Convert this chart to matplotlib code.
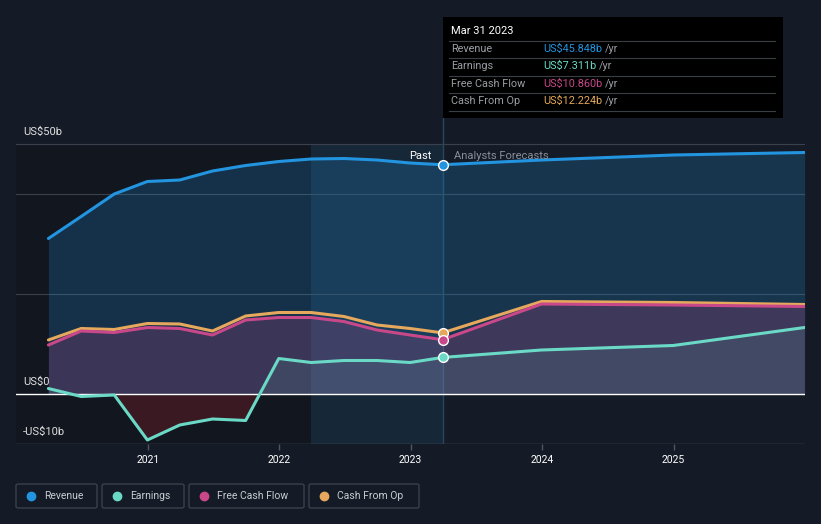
import numpy as np
import pandas as pd
import matplotlib
matplotlib.use("Agg")
import matplotlib.pyplot as plt
import matplotlib.dates as mdates
from matplotlib.patches import Rectangle, FancyBboxPatch

plt.rcParams["font.family"] = ["Roboto", "DejaVu Sans"]

# past, quarterly (US$ b, trailing twelve months)
past_dates = ["2020-03-31", "2020-06-30", "2020-09-30", "2020-12-31",
              "2021-03-31", "2021-06-30", "2021-09-30", "2021-12-31",
              "2022-03-31", "2022-06-30", "2022-09-30", "2022-12-31",
              "2023-03-31"]
rev_past = [31.1, 35.5, 40.0, 42.5, 42.8, 44.6, 45.7, 46.5, 47.0, 47.1, 46.8, 46.2, 45.848]
earn_past = [1.1, -0.5, -0.2, -9.2, -6.2, -5.0, -5.3, 7.1, 6.3, 6.7, 6.7, 6.3, 7.311]
fcf_past = [9.8, 12.6, 12.3, 13.3, 13.1, 11.8, 14.8, 15.3, 15.3, 14.5, 12.8, 11.8, 10.860]
cfo_past = [10.8, 13.1, 12.9, 14.1, 14.0, 12.6, 15.6, 16.3, 16.3, 15.5, 13.8, 13.1, 12.224]

# analyst forecasts
fc_dates = ["2023-03-31", "2023-12-31", "2024-12-31", "2025-12-31"]
rev_fc = [45.848, 46.8, 47.8, 48.3]
earn_fc = [7.311, 8.8, 9.7, 13.3]
fcf_fc = [10.860, 18.0, 17.8, 17.5]
cfo_fc = [12.224, 18.5, 18.3, 17.9]

tip_labels = ["Revenue", "Earnings", "Free Cash Flow", "Cash From Op"]
tip_values = ["US$45.848b", "US$7.311b", "US$10.860b", "US$12.224b"]
year_ticks = ["2021", "2022", "2023", "2024", "2025"]

BG = "#151b26"
C_REV = "#2394df"
C_EARN = "#6ad9c6"
C_FCF = "#c8488a"
C_CFO = "#e6a85c"

pd_past = pd.to_datetime(past_dates)
pd_fc = pd.to_datetime(fc_dates)
t = np.concatenate([pd_past, pd_fc[1:]])
rev = np.array(rev_past + rev_fc[1:])
earn = np.array(earn_past + earn_fc[1:])
fcf = np.array(fcf_past + fcf_fc[1:])
cfo = np.array(cfo_past + cfo_fc[1:])

fig = plt.figure(figsize=(8.21, 5.24), dpi=100, facecolor=BG)
W, H = 821, 524
ax = fig.add_axes([16 / W, 1 - 444 / H, (805 - 16) / W, (444 - 17) / H])
ax.set_facecolor(BG)

x0, x1 = pd.Timestamp("2020-01-01"), pd.Timestamp("2026-01-01")
ax.set_xlim(x0, x1)
ax.set_ylim(-10, 75.4)

# background bands (only inside the plotted range)
ax.fill_between([x0, pd.Timestamp("2022-03-31")], -10, 50, color="black", alpha=0.18, lw=0, zorder=0)
ax.fill_between([pd.Timestamp("2022-03-31"), pd_past[-1]], -10, 50, color=C_REV, alpha=0.10, lw=0, zorder=0)

# gridlines
for g in [50, 40, 20]:
    ax.axhline(g, color="#3a414c", lw=0.8, zorder=1)
ax.axhline(-10, color="#50565f", lw=1.0, zorder=1)

# fills
ax.fill_between(t, rev, 0, color=C_REV, alpha=0.22, lw=0, zorder=2)
ax.fill_between(t, fcf, 0, color=C_FCF, alpha=0.22, lw=0, zorder=2)
ax.fill_between(t, earn, 0, where=earn >= 0, interpolate=True, color=C_EARN, alpha=0.10, lw=0, zorder=2)
ax.fill_between(t, earn, 0, where=earn < 0, interpolate=True, color="#8a1f2c", alpha=0.35, lw=0, zorder=2)

ax.axhline(0, color="white", lw=1.0, zorder=3)

kw = dict(lw=2.2, solid_capstyle="round", solid_joinstyle="round", zorder=4)
ax.plot(t, rev, color=C_REV, **kw)
ax.plot(t, cfo, color=C_CFO, **kw)
ax.plot(t, fcf, color=C_FCF, **kw)
ax.plot(t, earn, color=C_EARN, **kw)

# marker line and points
ax.plot([pd_past[-1], pd_past[-1]], [-10, 55.2], color="#27465f", lw=1.0, zorder=1)
for v, c in [(rev_past[-1], C_REV), (cfo_past[-1], C_CFO), (fcf_past[-1], C_FCF), (earn_past[-1], C_EARN)]:
    ax.plot(pd_past[-1], v, "o", ms=7, color=c, mec="white", mew=1.0, zorder=5)

# axes styling
for s in ax.spines.values():
    s.set_visible(False)
ax.set_yticks([])
ax.set_xticks(pd.to_datetime([y + "-01-01" for y in year_ticks]))
ax.xaxis.set_major_formatter(mdates.DateFormatter("%Y"))
ax.tick_params(axis="x", colors="#50565f", length=4, width=1, labelcolor="white", labelsize=7.5, pad=4)

# y labels
for v, s in [(50, "US$50b"), (0, "US$0"), (-10, "-US$10b")]:
    ax.text(pd.Timestamp("2020-01-20"), v + 1.5, s, color="#e0e0e0", fontsize=8, va="bottom", ha="left", zorder=6)

ax.text(pd.Timestamp("2023-03-01"), 46.6, "Past", color="white", fontsize=8, ha="right", va="bottom", zorder=6)
ax.text(pd.Timestamp("2023-05-01"), 46.6, "Analysts Forecasts", color="#8a9099", fontsize=8, ha="left", va="bottom", zorder=6)

# tooltip box
fig.patches.append(Rectangle((443 / W, 1 - 118 / H), 340 / W, 101 / H, transform=fig.transFigure,
                             facecolor="black", edgecolor="none", zorder=10))
fig.text(451 / W, 1 - 31 / H, "Mar 31 2023", color="white", fontsize=8, va="center", zorder=11)
for y in [41, 58, 76, 93, 111]:
    fig.add_artist(plt.Line2D([449 / W, 775 / W], [1 - y / H, 1 - y / H], color="#3a3f45", lw=0.8, zorder=11))
for i, (lab, val, c) in enumerate(zip(tip_labels, tip_values, [C_REV, C_EARN, C_FCF, C_CFO])):
    yy = 1 - [49, 66, 84, 101][i] / H
    fig.text(451 / W, yy, lab, color="#9a9ea4", fontsize=7.8, va="center", zorder=11)
    tx = fig.text(543 / W, yy, val, color=c, fontsize=7.8, va="center", zorder=11)
    fig.canvas.draw()
    bb = tx.get_window_extent()
    fig.text((bb.x1 + 3) / W, yy, "/yr", color="#9a9ea4", fontsize=7.8, va="center", zorder=11)

# legend boxes
boxes = [(16, 97), (102, 184), (189, 304), (309, 419)]
for (a, b), lab, c in zip(boxes, tip_labels, [C_REV, C_EARN, C_FCF, C_CFO]):
    fig.patches.append(FancyBboxPatch((a / W, 1 - 508 / H), (b - a) / W, 24 / H, transform=fig.transFigure,
                                      boxstyle="round,pad=0,rounding_size=0.003", facecolor=BG,
                                      edgecolor="#3a414c", lw=1.0))
    fig.add_artist(plt.Line2D([(a + 15) / W], [1 - 496 / H], marker="o", ms=6, color=c, mec=c))
    fig.text((a + 28) / W, 1 - 496 / H, lab, color="#c8ccd2", fontsize=7.5, va="center")

fig.savefig("out.png", dpi=100, facecolor=BG)
